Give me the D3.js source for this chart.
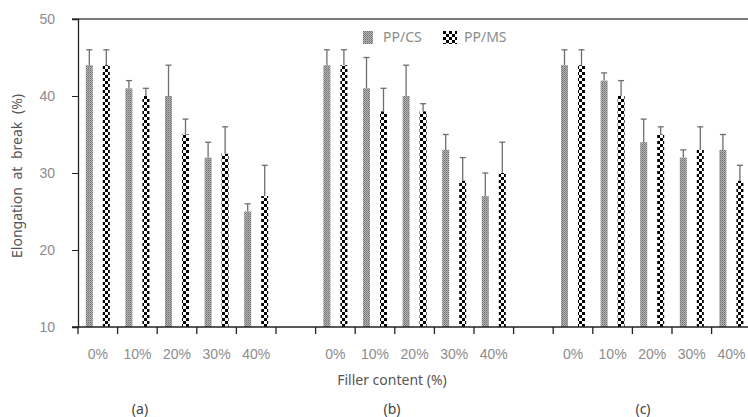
<!DOCTYPE html>
<html>
<head>
<meta charset="utf-8">
<script src="https://cdn.jsdelivr.net/npm/d3@7"></script>
<style>
  body { margin: 0; background: #fff; }
  svg { display: block; font-family: "Noto Sans", "Open Sans", sans-serif; }
</style>
</head>
<body>
<svg id="chart" width="748" height="417"></svg>
<script>
// panels and filler levels
var groups = ['(a)', '(b)', '(c)'];
var fillers = ['0%', '10%', '20%', '30%', '40%'];
var seriesNames = ['PP/CS', 'PP/MS'];

// elongation at break (%) per panel, per filler level
var ppcs    = [[44, 41, 40, 32, 25], [44, 41, 40, 33, 27], [44, 42, 34, 32, 33]];
var ppcsErr = [[2, 1, 4, 2, 1],      [2, 4, 4, 2, 3],      [2, 1, 3, 1, 2]];
var ppms    = [[44, 40, 35, 32.5, 27], [44, 38, 38, 29, 30], [44, 40, 35, 33, 29]];
var ppmsErr = [[2, 1, 2, 3.5, 4],    [2, 3, 1, 3, 4],      [2, 2, 1, 3, 2]];

var yTicks = [10, 20, 30, 40, 50];

var svg = d3.select('#chart');
var margin = {top: 19, left: 78, bottom: 90},
    height = 417 - margin.top - margin.bottom;

// categories: 5 per panel with one blank slot between panels
var cats = [];
groups.forEach(function(g, gi) {
  if (gi > 0) cats.push({key: 'gap' + gi, label: ''});
  fillers.forEach(function(f) { cats.push({key: g + f, label: f}); });
});

var x = d3.scaleBand()
  .domain(cats.map(function(c) { return c.key; }))
  .range([margin.left, margin.left + 39.6 * cats.length])
  .padding(0);

var xs = d3.scalePoint().domain(seriesNames).range([-8.5, 8.5]);
var barW = 7;

var y = d3.scaleLinear().domain([10, 50]).range([margin.top + height, margin.top]);

// patterns
var defs = svg.append('defs');
var pg = defs.append('pattern').attr('id', 'pat-cs')
  .attr('patternUnits', 'userSpaceOnUse').attr('width', 2).attr('height', 2);
pg.append('rect').attr('width', 2).attr('height', 2).attr('fill', '#b4b4b4');
pg.append('rect').attr('width', 1).attr('height', 1).attr('fill', '#6e6e6e');
pg.append('rect').attr('x', 1).attr('y', 1).attr('width', 1).attr('height', 1).attr('fill', '#8a8a8a');

var pm = defs.append('pattern').attr('id', 'pat-ms')
  .attr('patternUnits', 'userSpaceOnUse').attr('width', 6).attr('height', 6);
pm.append('rect').attr('width', 6).attr('height', 6).attr('fill', '#fff');
pm.append('rect').attr('width', 3).attr('height', 3).attr('fill', '#000');
pm.append('rect').attr('x', 3).attr('y', 3).attr('width', 3).attr('height', 3).attr('fill', '#000');

var fills = {'PP/CS': 'url(#pat-cs)', 'PP/MS': 'url(#pat-ms)'};

// top gridline at 50
svg.append('line')
  .attr('x1', margin.left - 6).attr('x2', 748)
  .attr('y1', y(50)).attr('y2', y(50))
  .attr('stroke', '#7a7a7a').attr('stroke-width', 2);

// bar records
var bars = [];
groups.forEach(function(g, gi) {
  fillers.forEach(function(f, fi) {
    bars.push({cat: g + f, s: 'PP/CS', v: ppcs[gi][fi], e: ppcsErr[gi][fi]});
    bars.push({cat: g + f, s: 'PP/MS', v: ppms[gi][fi], e: ppmsErr[gi][fi]});
  });
});

function cx(d) { return x(d.cat) + x.bandwidth() / 2 + xs(d.s); }

svg.append('g').selectAll('rect')
  .data(bars).enter().append('rect')
  .attr('x', function(d) { return cx(d) - barW / 2; })
  .attr('y', function(d) { return y(d.v); })
  .attr('width', barW)
  .attr('height', function(d) { return y(10) - y(d.v); })
  .attr('fill', function(d) { return fills[d.s]; });

// error bars (upper only)
var eb = svg.append('g').attr('stroke', '#6e6e6e').attr('stroke-width', 1.3);
eb.selectAll('line.v').data(bars).enter().append('line')
  .attr('class', 'v')
  .attr('x1', cx).attr('x2', cx)
  .attr('y1', function(d) { return y(d.v); })
  .attr('y2', function(d) { return y(d.v + d.e); });
eb.selectAll('line.c').data(bars).enter().append('line')
  .attr('class', 'c')
  .attr('x1', function(d) { return cx(d) - 3; })
  .attr('x2', function(d) { return cx(d) + 3; })
  .attr('y1', function(d) { return y(d.v + d.e); })
  .attr('y2', function(d) { return y(d.v + d.e); });

// y axis
var yAxis = svg.append('g')
  .attr('transform', 'translate(' + margin.left + ',0)')
  .call(d3.axisLeft(y).tickValues(yTicks).tickSize(6).tickPadding(17));
yAxis.select('.domain').attr('stroke', '#222').attr('stroke-width', 1.3);
yAxis.selectAll('.tick line').attr('stroke', '#222');
yAxis.selectAll('.tick text').attr('fill', '#8c8c8c').style('font-size', '14px');

// x axis: labels centred, ticks at category boundaries
var xAxis = svg.append('g')
  .attr('transform', 'translate(0,' + y(10) + ')')
  .call(d3.axisBottom(x).tickSize(0).tickPadding(22)
    .tickFormat(function(k) { return cats.filter(function(c) { return c.key === k; })[0].label; }));
xAxis.select('.domain').remove();
xAxis.selectAll('.tick text').attr('fill', '#8c8c8c').style('font-size', '14px');

svg.append('line')
  .attr('x1', margin.left - 6).attr('x2', 748)
  .attr('y1', y(10)).attr('y2', y(10))
  .attr('stroke', '#222').attr('stroke-width', 1.3);
svg.append('g').selectAll('line')
  .data(cats).enter().append('line')
  .attr('x1', function(c) { return x(c.key); })
  .attr('x2', function(c) { return x(c.key); })
  .attr('y1', y(10)).attr('y2', y(10) + 7)
  .attr('stroke', '#222').attr('stroke-width', 1.3);

// axis titles
svg.append('text')
  .attr('x', 392).attr('y', 385)
  .attr('text-anchor', 'middle').attr('fill', '#555')
  .style('font-size', '14px')
  .text('Filler content (%)');

svg.append('text')
  .attr('transform', 'translate(22,176) rotate(-90)')
  .attr('text-anchor', 'middle').attr('fill', '#555')
  .style('font-size', '14px').attr('word-spacing', '4px')
  .text('Elongation at break (%)');

// panel labels
var panelX = [140, 392, 643];
svg.append('g').selectAll('text')
  .data(groups).enter().append('text')
  .attr('x', function(d, i) { return panelX[i]; })
  .attr('y', 414)
  .attr('text-anchor', 'middle').attr('fill', '#444')
  .style('font-size', '14px')
  .text(function(d) { return d; });

// legend
var legend = svg.append('g').attr('transform', 'translate(363,31)');
var li = legend.selectAll('g').data(seriesNames).enter().append('g')
  .attr('transform', function(d, i) { return 'translate(' + (i * 80) + ',0)'; });
li.append('rect')
  .attr('width', function(d, i) { return i ? 14 : 10; })
  .attr('height', 13)
  .attr('fill', function(d) { return fills[d]; });
li.append('text')
  .attr('x', function(d, i) { return i ? 21 : 20; })
  .attr('y', 11)
  .attr('fill', '#8c8c8c')
  .style('font-size', '14px')
  .text(function(d) { return d; });
</script>
</body>
</html>
